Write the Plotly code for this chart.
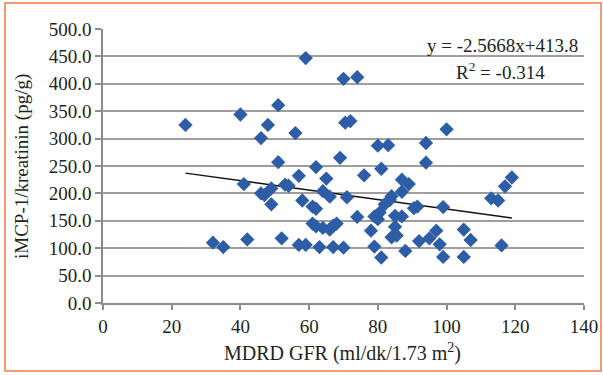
import plotly.graph_objects as go

# MDRD GFR values (x) and iMCP-1/kreatinin values (y)
gfr = [24, 32, 35, 40, 41, 42, 46, 46, 47, 48, 49, 49, 51, 51, 52, 53, 54, 56, 57, 57,
       58, 59, 59, 61, 62, 62, 61, 62, 63, 64, 64, 65, 66, 66, 67, 68, 67, 69, 70, 70,
       70.5, 72, 71, 74, 74, 76, 78, 79, 79, 80, 80, 81, 81, 80.5, 82, 83.5, 84, 83, 84, 85.5,
       85, 85, 87, 87, 87, 89, 88, 90.5, 91.5, 92, 94, 94, 95, 97, 98, 99, 99, 100,
       105, 105, 107, 113, 115, 116, 117, 119]
mcp = [325, 110, 102, 344, 217, 116, 301, 200, 197, 325, 209, 180, 361, 257, 118, 216, 214, 310, 232, 106,
       187, 447, 106, 176, 172, 248, 145, 140, 102, 204, 137, 227, 194, 134, 141, 145, 102, 265, 409, 101,
       329, 332, 193, 412, 157, 233, 132, 103, 158, 153, 287, 245, 83, 165, 180, 188, 195, 288, 120, 123,
       139, 159, 158, 203, 225, 217, 95, 173, 176, 113, 256, 292, 118, 132, 107, 84, 175, 317,
       134, 84, 115, 191, 187, 105, 213, 229]

# Trend line end points as drawn in the chart
trend_x = [24, 119]
trend_y = [237, 155]

x_ticks = [0, 20, 40, 60, 80, 100, 120, 140]
y_ticks = [0, 50, 100, 150, 200, 250, 300, 350, 400, 450, 500]

FONT = "Liberation Serif"
TXT = "#231F20"
L, R, T, B = 103, 19, 29, 72
PW, PH = 603 - L - R, 375 - T - B


def px(xpix):
    return (xpix - L) / PW


def py(ypix):
    return (375 - B - ypix) / PH


fig = go.Figure()
fig.add_trace(go.Scatter(x=trend_x, y=trend_y, mode="lines",
                         line=dict(color="#111111", width=1.5), hoverinfo="skip"))
fig.add_trace(go.Scatter(x=gfr, y=mcp, mode="markers",
                         marker=dict(symbol="diamond", size=11, color="#2D5DA6",
                                     line=dict(width=0))))

fig.update_layout(
    width=603, height=375,
    margin=dict(l=L, r=R, t=T, b=B),
    paper_bgcolor="white", plot_bgcolor="white",
    showlegend=False,
    font=dict(family=FONT, size=19, color=TXT),
    xaxis=dict(range=[0, 140], tickvals=x_ticks, ticktext=[str(v) for v in x_ticks],
               automargin=False,
               showgrid=False, zeroline=False, showline=True, linecolor="#8C8C8C", linewidth=1.5,
               ticks="outside", ticklen=5, tickcolor="#8C8C8C", tickwidth=1.5,
               tickfont=dict(family=FONT, size=19, color=TXT)),
    yaxis=dict(range=[0, 500], tickvals=y_ticks, ticktext=[f"{v:.1f}" for v in y_ticks],
               automargin=False,
               showgrid=True, gridcolor="#9E9E9E", gridwidth=1.5,
               zeroline=False, showline=True, linecolor="#8C8C8C", linewidth=1.5,
               ticks="outside", ticklen=6, tickcolor="#8C8C8C", tickwidth=1.5,
               tickfont=dict(family=FONT, size=19, color=TXT)),
    annotations=[
        dict(xref="paper", yref="paper", x=px(342), y=py(352),
             xanchor="center", yanchor="middle", showarrow=False,
             text="MDRD GFR (ml/dk/1.73 m<sup>2</sup>)", font=dict(family=FONT, size=20, color=TXT)),
        dict(xref="paper", yref="paper", x=px(22), y=py(167), textangle=-90,
             xanchor="center", yanchor="middle", showarrow=False,
             text="iMCP-1/kreatinin (pg/g)", font=dict(family=FONT, size=19, color=TXT)),
        dict(xref="paper", yref="paper", x=px(580), y=py(46),
             xanchor="right", yanchor="middle", showarrow=False,
             text="y = -2.5668x+413.8", font=dict(family=FONT, size=19, color=TXT)),
        dict(xref="paper", yref="paper", x=px(500), y=py(71),
             xanchor="center", yanchor="middle", showarrow=False,
             text="R<sup>2</sup> = -0.314", font=dict(family=FONT, size=19, color=TXT)),
    ],
    shapes=[
        dict(type="rect", xref="paper", yref="paper",
             x0=px(5), x1=px(601), y0=py(371), y1=py(3),
             line=dict(color="#EE7A45", width=1.5), fillcolor="rgba(0,0,0,0)", layer="below"),
    ],
)

fig.write_html("out.html", config={"displayModeBar": False},
               post_script="document.body.style.margin='0px';")
